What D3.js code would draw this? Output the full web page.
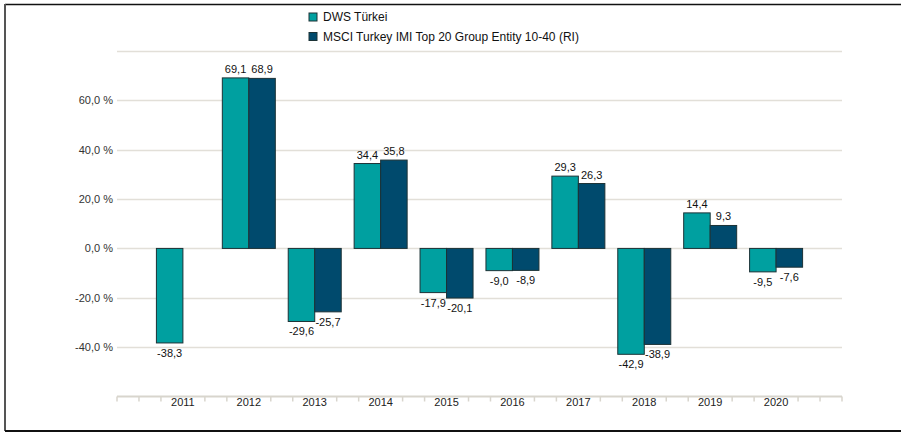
<!DOCTYPE html>
<html>
<head>
<meta charset="utf-8">
<script src="https://cdn.jsdelivr.net/npm/d3@7"></script>
<style>
  body { margin: 0; background: #fff; }
  svg text { font-family: "Liberation Sans", Arial, sans-serif; }
</style>
</head>
<body>
<div id="chart"></div>
<script>
var years = ['2011', '2012', '2013', '2014', '2015', '2016', '2017', '2018', '2019', '2020'];
var dwsValues = [-38.3, 69.1, -29.6, 34.4, -17.9, -9.0, 29.3, -42.9, 14.4, -9.5];
var msciValues = [null, 68.9, -25.7, 35.8, -20.1, -8.9, 26.3, -38.9, 9.3, -7.6];
var seriesNames = ['DWS Türkei', 'MSCI Turkey IMI Top 20 Group Entity 10-40 (RI)'];
var seriesColors = ['#00a0a0', '#004a6d'];
var gridValues = [80, 60, 40, 20, 0, -20, -40];
var yTickLabels = ['60,0 %', '40,0 %', '20,0 %', '0,0 %', '-20,0 %', '-40,0 %'];

function fmt(v) {
    return v.toFixed(1).replace('.', ',');
}

function drawChart() {
    var width = 901, height = 433;
    var svg = d3.select('#chart').append('svg')
        .attr('width', width)
        .attr('height', height);

    // frame
    svg.append('line').attr('x1', 5).attr('x2', width).attr('y1', 4.5).attr('y2', 4.5)
        .attr('stroke', '#111').attr('stroke-width', 1.5);
    svg.append('line').attr('x1', 5).attr('x2', 5).attr('y1', 4).attr('y2', 431)
        .attr('stroke', '#555').attr('stroke-width', 2);
    svg.append('line').attr('x1', 5).attr('x2', width).attr('y1', 431).attr('y2', 431)
        .attr('stroke', '#111').attr('stroke-width', 2);

    var x = d3.scalePoint().domain(years).range([117, 842]).padding(1);
    var y = d3.scaleLinear().domain([-60, 80]).range([396.5, 51]);
    var step = x.step();
    var barW = 26.5;

    // grid
    svg.append('g').selectAll('line')
        .data(gridValues)
        .enter().append('line')
        .attr('x1', 117).attr('x2', 842)
        .attr('y1', function (d) { return Math.round(y(d)) + 0.5; })
        .attr('y2', function (d) { return Math.round(y(d)) + 0.5; })
        .attr('stroke', '#e2dfd8').attr('stroke-width', 1.5);

    // y labels
    svg.append('g').selectAll('text')
        .data(gridValues.slice(1))
        .enter().append('text')
        .attr('x', 113)
        .attr('y', function (d) { return y(d); })
        .attr('dy', '.35em')
        .attr('text-anchor', 'end')
        .attr('font-size', 11)
        .attr('fill', '#333')
        .text(function (d, i) { return yTickLabels[i]; });

    // x axis line + minor ticks
    var axisY = y(-60);
    svg.append('line').attr('x1', 117).attr('x2', 842).attr('y1', axisY).attr('y2', axisY)
        .attr('stroke', '#d8d5cd').attr('stroke-width', 2);
    var tickXs = [];
    for (var k = 0; k <= 33; k++) {
        if (k % 3 === 0 && k > 0 && k < 33) continue;
        tickXs.push(117 + k * step / 3);
    }
    svg.append('g').selectAll('line')
        .data(tickXs)
        .enter().append('line')
        .attr('x1', function (d) { return d; })
        .attr('x2', function (d) { return d; })
        .attr('y1', axisY).attr('y2', axisY + 5)
        .attr('stroke', '#d8d5cd').attr('stroke-width', 1.5);
    svg.append('g').selectAll('text')
        .data(years)
        .enter().append('text')
        .attr('x', function (d) { return x(d); })
        .attr('y', axisY + 6)
        .attr('dy', '.35em')
        .attr('text-anchor', 'middle')
        .attr('font-size', 11)
        .attr('fill', '#222')
        .text(function (d) { return d; });

    // bars
    var allSeries = [dwsValues, msciValues];
    allSeries.forEach(function (vals, s) {
        var rows = years.map(function (yr, i) { return { year: yr, value: vals[i] }; })
            .filter(function (d) { return d.value !== null; });
        var g = svg.append('g');
        g.selectAll('rect')
            .data(rows)
            .enter().append('rect')
            .attr('x', function (d) { return x(d.year) - barW + s * barW; })
            .attr('width', barW)
            .attr('y', function (d) { return y(Math.max(0, d.value)); })
            .attr('height', function (d) { return Math.abs(y(d.value) - y(0)); })
            .attr('fill', seriesColors[s])
            .attr('stroke', '#1c3236')
            .attr('stroke-width', 1);
        g.selectAll('text')
            .data(rows)
            .enter().append('text')
            .attr('x', function (d) { return x(d.year) - barW / 2 + s * barW; })
            .attr('y', function (d) {
                return d.value >= 0 ? y(d.value) - 5 : y(d.value) + 14;
            })
            .attr('text-anchor', 'middle')
            .attr('font-size', 11)
            .attr('fill', '#111')
            .text(function (d) { return fmt(d.value); });
    });

    // legend
    var legend = svg.append('g').selectAll('g')
        .data(seriesNames)
        .enter().append('g')
        .attr('transform', function (d, i) { return 'translate(309,' + (13 + i * 19.5) + ')'; });
    legend.append('rect')
        .attr('width', 8).attr('height', 8)
        .attr('fill', function (d, i) { return seriesColors[i]; })
        .attr('stroke', '#1c3236').attr('stroke-width', 1);
    legend.append('text')
        .attr('x', 14)
        .attr('y', 4)
        .attr('dy', '.35em')
        .attr('font-size', 12)
        .attr('fill', '#111')
        .text(function (d) { return d; });
}

window.addEventListener('load', function () {
    drawChart();
});
</script>
</body>
</html>
